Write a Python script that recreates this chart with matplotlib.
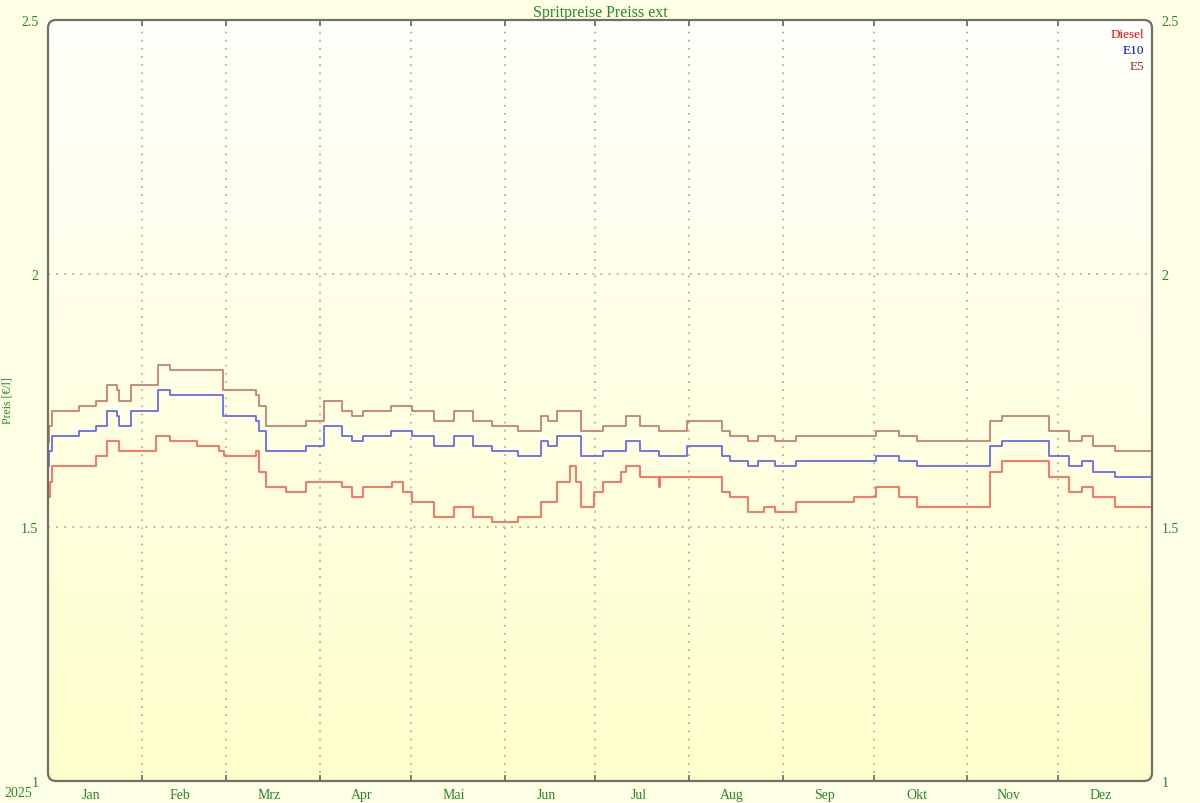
import numpy as np
import matplotlib
matplotlib.use('Agg')
import matplotlib.pyplot as plt
from matplotlib.patches import FancyBboxPatch

# Tage seit 1.1.2025, an denen sich der Preis aendert, und der neue Preis [EUR/l]
diesel_days = [0.2, 0.55, 1.2, 15.8, 19.4, 23.5, 35.6, 40.3, 49.2, 56.5, 58.3, 68.7,
               69.9, 72.1, 78.7, 85.3, 97.1, 100.6, 104, 113.8, 117.3, 120.4, 127.6,
               134.2, 140.4, 146.7, 155.3, 162.9, 168.3, 172.6, 174.5, 176.2, 180.5,
               183.4, 189.4, 191.1, 195.7, 202, 202.5, 223, 225.5, 231.4, 236.7, 240.4,
               247.3, 266.4, 273.6, 281.3, 287.4, 311.4, 315.3, 331, 337.5, 342, 345.4,
               352.7, 365]
diesel_price = [1.559, 1.589, 1.62, 1.64, 1.67, 1.65, 1.68, 1.67, 1.66, 1.65, 1.64, 1.65,
                1.61, 1.58, 1.57, 1.59, 1.58, 1.56, 1.58, 1.59, 1.57, 1.549, 1.52,
                1.54, 1.52, 1.51, 1.52, 1.549, 1.59, 1.62, 1.59, 1.54, 1.57,
                1.59, 1.61, 1.62, 1.60, 1.58, 1.60, 1.57, 1.56, 1.53, 1.54, 1.53,
                1.55, 1.56, 1.58, 1.56, 1.54, 1.61, 1.63, 1.60, 1.57, 1.58, 1.56,
                1.54, 1.54]

e10_days = [0.2, 0.4, 1.2, 10.2, 15.8, 19.4, 22.7, 23.5, 27.3, 36.4, 40.3, 58, 68.7,
            69.9, 72.1, 85.3, 91.2, 97.1, 100.6, 104, 113.4, 120.2, 127.6, 134.2, 140.6,
            146.7, 155.3, 162.9, 165.4, 168.2, 176.2, 183.4, 191.1, 195.7, 202, 211.1,
            223, 225.5, 231.4, 234.8, 240.4, 247.3, 273.6, 281.3, 287.4, 311.4, 315.3,
            331, 337.5, 342, 345.4, 352.7, 365]
e10_price = [1.62, 1.65, 1.68, 1.69, 1.70, 1.73, 1.72, 1.70, 1.73, 1.77, 1.76, 1.72, 1.71,
             1.69, 1.65, 1.66, 1.70, 1.68, 1.67, 1.68, 1.69, 1.68, 1.66, 1.68, 1.66,
             1.65, 1.64, 1.67, 1.66, 1.68, 1.64, 1.65, 1.67, 1.65, 1.64, 1.66,
             1.64, 1.63, 1.62, 1.63, 1.62, 1.63, 1.64, 1.63, 1.62, 1.66, 1.67,
             1.64, 1.62, 1.63, 1.61, 1.60, 1.60]

e5_days = e10_days
e5_price = [1.669, 1.70, 1.73, 1.74, 1.75, 1.78, 1.77, 1.75, 1.78, 1.82, 1.81, 1.77, 1.76,
            1.74, 1.70, 1.71, 1.75, 1.73, 1.72, 1.73, 1.74, 1.73, 1.71, 1.73, 1.71,
            1.70, 1.69, 1.72, 1.71, 1.73, 1.69, 1.70, 1.72, 1.70, 1.69, 1.71,
            1.69, 1.68, 1.67, 1.68, 1.67, 1.68, 1.69, 1.68, 1.67, 1.71, 1.72,
            1.69, 1.67, 1.68, 1.66, 1.65, 1.65]

month_names = ['Jan', 'Feb', 'Mrz', 'Apr', 'Mai', 'Jun', 'Jul', 'Aug', 'Sep', 'Okt', 'Nov', 'Dez']
month_len = [31, 28, 31, 30, 31, 30, 31, 31, 30, 31, 30, 31]
y_ticks = [1, 1.5, 2, 2.5]

green = '#228b22'
plt.rcParams['font.family'] = ['Liberation Serif', 'DejaVu Serif']

fig = plt.figure(figsize=(12, 8.04), dpi=100, facecolor='#ffffe6')
L, R, T, B = 48 / 1200, 1152 / 1200, 1 - 21 / 804, 1 - 782 / 804
ax = fig.add_axes([L, B, R - L, T - B])
ax.set_facecolor('none')

# abgerundeter Rahmen mit Farbverlauf
frame = FancyBboxPatch((L, B), R - L, T - B, boxstyle='round,pad=0,rounding_size=0.0067',
                       mutation_aspect=1200 / 804, transform=fig.transFigure,
                       facecolor='none', edgecolor='#707068', linewidth=1.6, zorder=5)
fig.patches.append(frame)
grad = np.linspace(0, 1, 256).reshape(-1, 1)
cmap = matplotlib.colors.LinearSegmentedColormap.from_list('bg', ['#fffffb', '#ffffcc'])
bg = fig.add_axes([L, B, R - L, T - B], zorder=-1)
bg.imshow(grad, aspect='auto', cmap=cmap, extent=[0, 1, 0, 1])
bg.axis('off')
bg.images[0].set_clip_path(frame)

bounds = np.cumsum([0] + month_len)
ax.set_xlim(0, 365)
ax.set_ylim(1, 2.5)

for b in bounds[1:-1]:
    ax.axvline(b, color='#b0b0a8', linestyle=(0, (1, 3.5)), linewidth=1.3, zorder=1)
for yv in [1.5, 2]:
    ax.axhline(yv, color='#b0b0a8', linestyle=(0, (1, 3.5)), linewidth=1.3, zorder=1)

ax.step(e5_days, e5_price, where='post', color='#c8806e', linewidth=1.3, zorder=3)
ax.step(e10_days, e10_price, where='post', color='#6a6af0', linewidth=1.3, zorder=3)
ax.step(diesel_days, diesel_price, where='post', color='#ff6a5a', linewidth=1.3, zorder=3)

for s in ax.spines.values():
    s.set_visible(False)

ax.set_xticks(bounds[1:-1])
ax.set_xticklabels([])
ax.tick_params(axis='x', direction='in', length=4, width=1.3, color='#707070', top=True, bottom=True)
ax.set_xticks(bounds[:-1] + np.array(month_len) / 2 - 1.3, minor=True)
ax.set_xticklabels(month_names, minor=True)
ax.tick_params(axis='x', which='minor', length=0, pad=5, labelsize=10, labelcolor=green)

ax.set_yticks(y_ticks)
ax.set_yticklabels(['1', '1.5', '2', '2.5'])
ax.tick_params(axis='y', length=0, pad=7, labelsize=10, labelcolor=green, left=True, right=True,
               labelleft=True, labelright=True)

ax.set_title('Spritpreise Preiss ext', color=green, fontsize=11.5, pad=3)
fig.text(8 / 1200, 1 - 401 / 804, 'Preis [€/l]', rotation=90, color=green, fontsize=8.5,
         ha='center', va='center')
fig.text(18 / 1200, 1 - 794 / 804, '2025', color=green, fontsize=10, ha='center', va='center')

for i, (name, col) in enumerate([('Diesel', '#ff0000'), ('E10', '#0000ff'), ('E5', '#a52a2a')]):
    ax.text(0.9928, 0.99 - i * 0.021, name, transform=ax.transAxes, color=col,
            fontsize=9.5, ha='right', va='top')

fig.savefig('out.png', dpi=100, facecolor=fig.get_facecolor())
